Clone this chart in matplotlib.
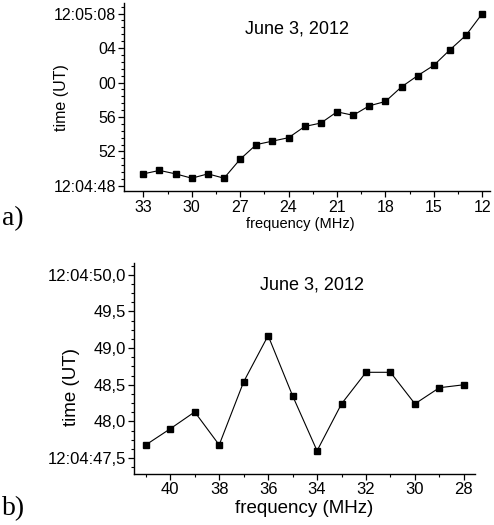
import matplotlib
matplotlib.use("Agg")
import matplotlib.pyplot as plt
from matplotlib.ticker import MultipleLocator, AutoMinorLocator, FixedLocator

plt.rcParams["font.family"] = ["Liberation Sans", "DejaVu Sans"]

# panel a) - time in seconds after 12:04:00
freq_a = [33, 32, 31, 30, 29, 28, 27, 26, 25, 24, 23, 22, 21, 20, 19, 18, 17, 16, 15, 14, 13, 12]
time_a = [49.4, 49.8, 49.4, 48.9, 49.4, 48.9, 51.1, 52.8, 53.2, 53.6, 54.9, 55.3,
          56.6, 56.2, 57.3, 57.8, 59.5, 60.8, 62.0, 63.8, 65.5, 68.0]
yticks_a = [48, 52, 56, 60, 64, 68]
ylabels_a = ["12:04:48", "52", "56", "00", "04", "12:05:08"]
xticks_a = [33, 30, 27, 24, 21, 18, 15, 12]

# panel b)
freq_b = [41, 40, 39, 38, 37, 36, 35, 34, 33, 32, 31, 30, 29, 28]
time_b = [47.68, 47.90, 48.13, 47.68, 48.54, 49.17, 48.35, 47.60, 48.24,
          48.67, 48.67, 48.24, 48.46, 48.50]
yticks_b = [47.5, 48.0, 48.5, 49.0, 49.5, 50.0]
ylabels_b = ["12:04:47,5", "48,0", "48,5", "49,0", "49,5", "12:04:50,0"]
xticks_b = [40, 38, 36, 34, 32, 30, 28]

DATE_TEXT = "June 3, 2012"


def style_axes(ax, labelsize, pad):
    for s in ("top", "right"):
        ax.spines[s].set_visible(False)
    for s in ("left", "bottom"):
        ax.spines[s].set_linewidth(1.0)
    ax.tick_params(which="major", direction="out", length=4, width=0.9, labelsize=labelsize, pad=2)
    ax.tick_params(axis="x", which="major", pad=pad)
    ax.tick_params(which="minor", direction="out", length=2, width=0.8)


fig = plt.figure(figsize=(4.94, 5.25), dpi=100)

# --- a) ---
ax1 = fig.add_axes([0.2516, 0.6368, 0.7403, 0.357])
ax1.plot(freq_a, time_a, color="black", linewidth=0.8, marker="s", markersize=4.5)
ax1.set_xlim(34.18, 11.52)
ax1.set_ylim(47.45, 69.2)
ax1.yaxis.set_major_locator(FixedLocator(yticks_a))
ax1.set_yticklabels(ylabels_a)
ax1.yaxis.set_minor_locator(MultipleLocator(0.8))
ax1.xaxis.set_major_locator(FixedLocator(xticks_a))
ax1.xaxis.set_minor_locator(AutoMinorLocator(2))
style_axes(ax1, 11.5, 3)
ax1.set_xlabel("frequency (MHz)", fontsize=10.5)
ax1.set_ylabel("time (UT)", fontsize=11.5)
ax1.xaxis.set_label_coords(0.482, -0.14)
ax1.xaxis.label.set_va("top")
ax1.yaxis.set_label_coords(-0.15, 0.495)
ax1.text(0.472, 0.86, DATE_TEXT, transform=ax1.transAxes, ha="center", va="center", fontsize=13)

# --- b) ---
ax2 = fig.add_axes([0.2713, 0.0966, 0.690, 0.4025])
ax2.plot(freq_b, time_b, color="black", linewidth=0.8, marker="s", markersize=4.5)
ax2.set_xlim(41.48, 27.55)
ax2.set_ylim(47.28, 50.16)
ax2.yaxis.set_major_locator(FixedLocator(yticks_b))
ax2.set_yticklabels(ylabels_b)
ax2.yaxis.set_minor_locator(MultipleLocator(0.125))
ax2.xaxis.set_major_locator(FixedLocator(xticks_b))
ax2.xaxis.set_minor_locator(MultipleLocator(1))
style_axes(ax2, 12, 1.5)
ax2.set_xlabel("frequency (MHz)", fontsize=13.5)
ax2.set_ylabel("time (UT)", fontsize=13.5)
ax2.xaxis.set_label_coords(0.5, -0.12)
ax2.xaxis.label.set_va("top")
ax2.yaxis.set_label_coords(-0.158, 0.415)
ax2.text(0.521, 0.896, DATE_TEXT, transform=ax2.transAxes, ha="center", va="center", fontsize=13)

fig.text(0.004, 0.583, "a)", family=["Liberation Serif", "DejaVu Serif"], fontsize=20, va="center", ha="left")
fig.text(0.004, 0.032, "b)", family=["Liberation Serif", "DejaVu Serif"], fontsize=20, va="center", ha="left")

fig.savefig("out.png", dpi=100)
